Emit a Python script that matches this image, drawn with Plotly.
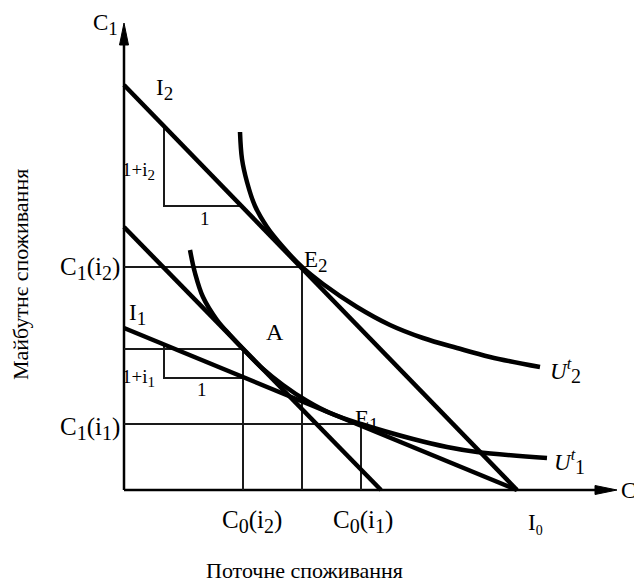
import plotly.graph_objects as go

# ---- data (units: horizontal = current consumption C0, vertical = future consumption C1) ----
I0 = 393                          # income endowment on C0 axis
I2_C1 = 405                       # intercept of budget line I2 on C1 axis
A_line_C1, A_line_C0 = 263, 257   # line through A (parallel to I2)
I1_C1 = 162                       # intercept of budget line I1 on C1 axis

E2 = (178, 223)
A = (119, 141)
E1 = (237, 66)

tri2_x = [40, 40, 116]
tri2_y = [363, 284, 284]
tri1_x = [40, 40, 119]
tri1_y = [144, 112, 112]

U2_x = [116, 118, 123, 131, 143, 159, 178, 199, 233, 266, 299, 333, 366, 416]
U2_y = [358, 331, 308, 284, 263, 243, 223, 206, 183, 165, 152, 142, 133, 123]
U1_x = [66, 71, 79, 93, 106, 119, 139, 159, 183, 206, 237, 289, 323, 353, 423]
U1_y = [240, 217, 193, 170, 155, 141, 121, 105, 89, 77, 66, 51, 43, 38, 32]

Y_TIP, X_TIP = 467, 493      # arrow tips of the axes
HEAD_LEN, HEAD_HALF = 22, 4.5

FONT = "Liberation Serif"
BLACK = "#000000"
THIN = "#1a1a1a"

fig = go.Figure()

def line(x, y, w, color=BLACK, shape="linear"):
    fig.add_trace(go.Scatter(x=x, y=y, mode="lines",
                             line=dict(color=color, width=w, shape=shape, smoothing=1.0),
                             hoverinfo="skip", showlegend=False))

def head(xs, ys):
    fig.add_trace(go.Scatter(x=xs, y=ys, mode="lines", fill="toself",
                             fillcolor=BLACK, line=dict(color=BLACK, width=1),
                             hoverinfo="skip", showlegend=False))

# axes
line([0, 0], [0, Y_TIP - HEAD_LEN + 2], 2.5)
line([0, X_TIP - HEAD_LEN + 2], [0, 0], 2.5)
head([-HEAD_HALF, HEAD_HALF, 0, -HEAD_HALF],
     [Y_TIP - HEAD_LEN, Y_TIP - HEAD_LEN, Y_TIP, Y_TIP - HEAD_LEN])
head([X_TIP - HEAD_LEN, X_TIP - HEAD_LEN, X_TIP, X_TIP - HEAD_LEN],
     [-HEAD_HALF, HEAD_HALF, 0, -HEAD_HALF])

# thin guide lines
line([0, E2[0], E2[0]], [E2[1], E2[1], 0], 2, THIN)
line([0, A[0], A[0]], [A[1], A[1], 0], 2, THIN)
line([0, E1[0], E1[0]], [E1[1], E1[1], 0], 2, THIN)
line(tri2_x, tri2_y, 2, THIN)
line(tri1_x, tri1_y, 2, THIN)

# budget lines
line([0, I0], [I2_C1, 0], 4.5)
line([0, A_line_C0], [A_line_C1, 0], 4.5)
line([0, I0], [I1_C1, 0], 4.5)

# indifference curves
line(U2_x, U2_y, 4.5, shape="spline")
line(U1_x, U1_y, 4.5, shape="spline")

ann = []

def sub(t, s):
    return "<sub><span style='font-size:%dpx'>%s</span></sub>" % (s, t)

def label(x, y, text, size=23, xanchor="center"):
    ann.append(dict(x=x, y=y, xref="x", yref="y", text=text, showarrow=False,
                    xanchor=xanchor, yanchor="middle",
                    font=dict(family=FONT, size=size, color=BLACK)))

label(-19, 466, "C" + sub("1", 19))
label(40, 401, "I" + sub("2", 19))
label(14, 319, "1+i" + sub("2", 15), 19)
label(81, 272, "1", 19)
label(-2, 222, "C" + sub("1", 20) + "(i" + sub("2", 20) + ")", 25, xanchor="right")
label(178, 229, "E" + sub("2", 19), xanchor="left")
label(13, 176, "I" + sub("1", 19))
label(151, 158, "A", 24)
label(14, 112, "1+i" + sub("1", 15), 19)
label(78, 101, "1", 19)
label(-2, 62, "C" + sub("1", 20) + "(i" + sub("1", 20) + ")", 25, xanchor="right")
label(229, 70, "E" + sub("1", 19), xanchor="left")
label(128, -31, "C" + sub("0", 20) + "(i" + sub("2", 20) + ")", 25)
label(239, -31, "C" + sub("0", 20) + "(i" + sub("1", 20) + ")", 25)
label(411, -34, "I" + sub("0", 14))
label(495, -2, "C" + sub("0", 16), xanchor="left")
label(424, 119, "<i>U</i><sup><i>t</i></sup>" + sub("2", 20), xanchor="left")
label(428, 28, "<i>U</i><sup><i>t</i></sup>" + sub("1", 20), xanchor="left")

# axis titles
ann.append(dict(x=-104, y=215, xref="x", yref="y", text="Майбутнє споживання",
                showarrow=False, textangle=-90, xanchor="center", yanchor="middle",
                font=dict(family=FONT, size=22, color=BLACK)))
ann.append(dict(x=180, y=-80, xref="x", yref="y", text="Поточне споживання",
                showarrow=False, xanchor="center", yanchor="middle",
                font=dict(family=FONT, size=22, color=BLACK)))

# the page body has an 8px margin, so the figure is 8px smaller and the ranges compensate
fig.update_layout(
    width=634, height=573,
    margin=dict(l=0, r=0, t=0, b=0),
    paper_bgcolor="white", plot_bgcolor="white",
    xaxis=dict(range=[-116, 518], visible=False, fixedrange=True),
    yaxis=dict(range=[-91, 482], visible=False, fixedrange=True),
    annotations=ann,
    showlegend=False,
)

fig.write_html("out.html")
